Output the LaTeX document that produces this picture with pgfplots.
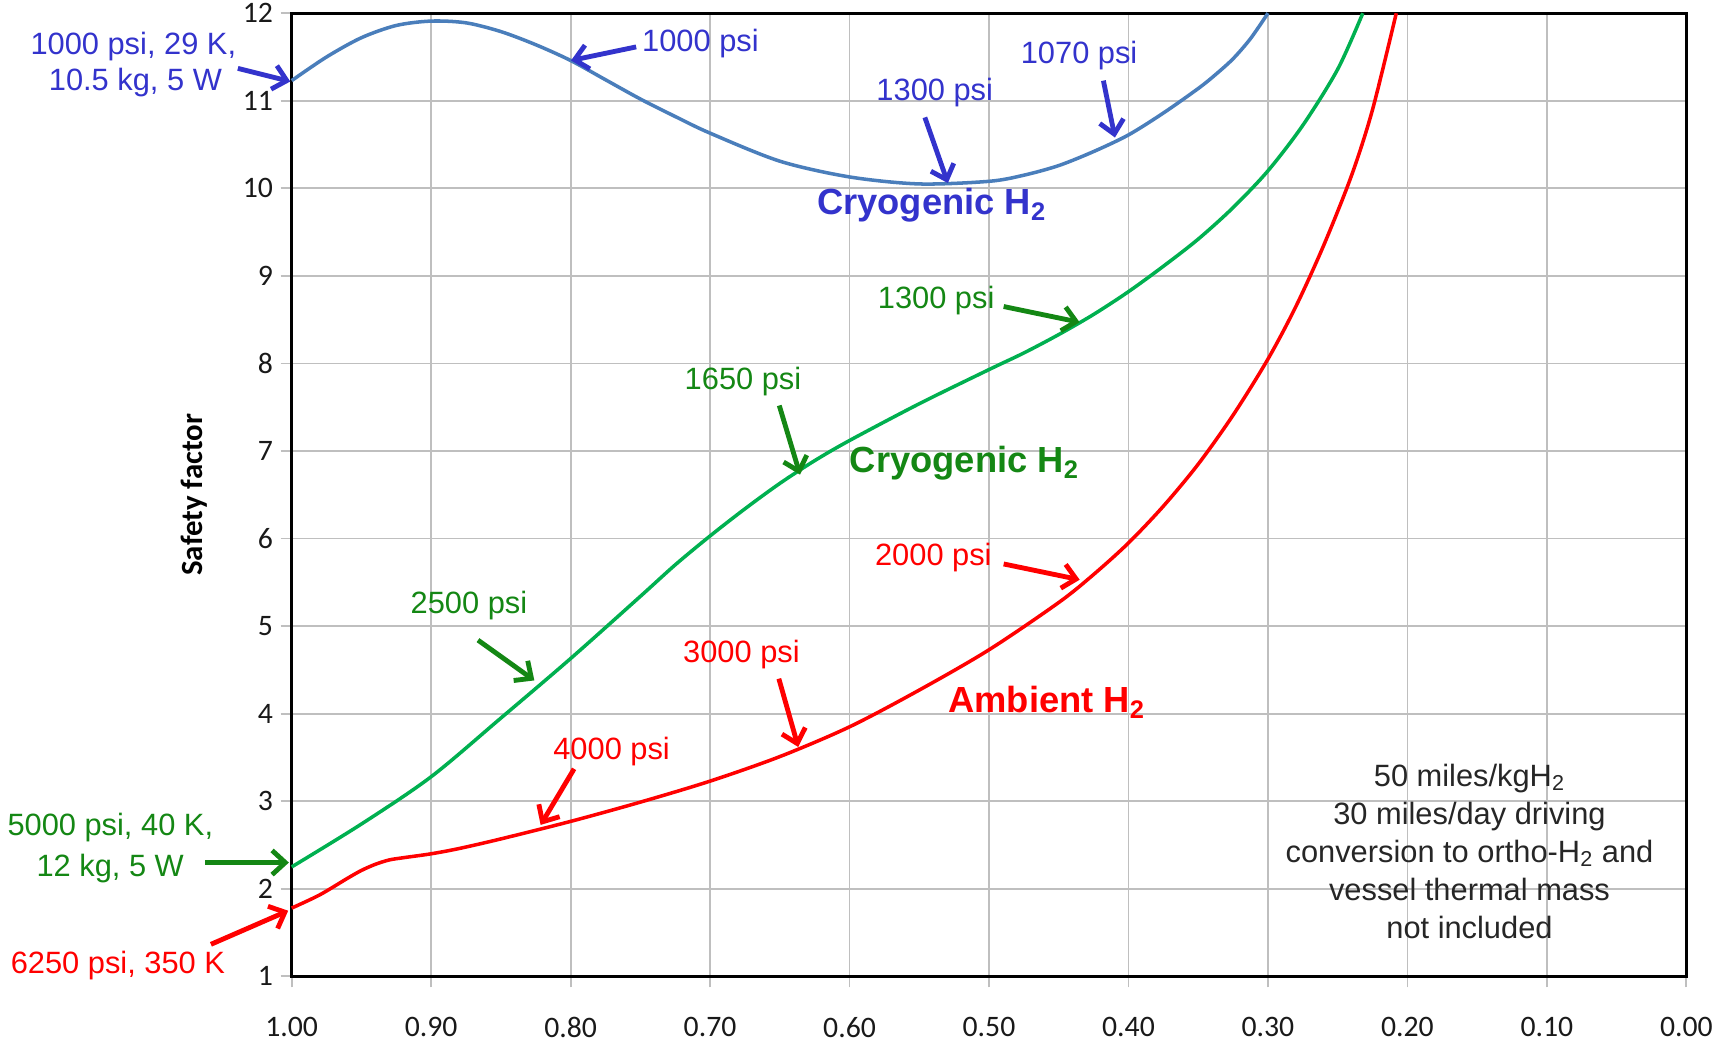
\documentclass[border=0pt]{standalone}
\usepackage{pgfplots}
\pgfplotsset{compat=1.18}
\usepackage{fontspec}
\setmainfont{Liberation Sans}
\newfontfamily\calibri{Carlito}
\usetikzlibrary{arrows.meta}

\definecolor{bluecurve}{RGB}{74,126,187}
\definecolor{bluetext}{RGB}{51,51,204}
\definecolor{greencurve}{RGB}{0,176,80}
\definecolor{greentext}{RGB}{20,135,20}
\definecolor{redc}{RGB}{255,0,0}
\definecolor{gridc}{RGB}{191,191,191}

\begin{document}
\begin{tikzpicture}[
  ann/.style={font=\fontsize{14}{16}\selectfont, inner sep=0pt},
  big/.style={font=\fontsize{16.5}{19}\selectfont\bfseries, inner sep=0pt},
  arr/.style={line width=2.2pt, -{Straight Barb[length=6pt,width=11pt]}},
]
\begin{axis}[
  scale only axis, width=633.5pt, height=437.5pt,
  x dir=reverse, xmin=0, xmax=1, ymin=1, ymax=12,
  xtick={0,0.1,0.2,0.3,0.4,0.5,0.6,0.7,0.8,0.9,1},
  xticklabels={0.00,0.10,0.20,0.30,0.40,0.50,0.60,0.70,0.80,0.90,1.00},
  ytick={1,2,3,4,5,6,7,8,9,10,11,12},
  yticklabels={1,2,3,4,5,6,7,8,9,10,11,12},
  grid=major, major grid style={gridc, line width=0.8pt},
  axis line style={black, line width=1.5pt},
  tick align=outside, tick pos=left, major tick length=5pt,
  tick style={gridc, line width=0.8pt},
  ticklabel style={font=\calibri\fontsize{13.5}{15}\selectfont, text=black!90},
  xticklabel style={yshift=-10pt},
  ylabel={Safety factor},
  ylabel style={font=\calibri\fontsize{14}{16}\selectfont\bfseries, at={(axis description cs:-0.0702,0.5)}, anchor=center},
  clip=false,
]
% Cryogenic H2 (blue)
\addplot[bluecurve, line width=1.6pt, smooth] coordinates {
(1.00,11.23) (0.975,11.50) (0.95,11.72) (0.925,11.86) (0.90,11.91) (0.875,11.89)
(0.85,11.79) (0.825,11.64) (0.80,11.46) (0.775,11.24) (0.75,11.02) (0.725,10.82)
(0.70,10.63) (0.65,10.31) (0.60,10.13) (0.55,10.05) (0.50,10.08) (0.475,10.15)
(0.45,10.26) (0.425,10.42) (0.40,10.61) (0.375,10.86) (0.35,11.14) (0.3375,11.30)
(0.325,11.48) (0.3125,11.71) (0.30,12.00)};
% Cryogenic H2 (green)
\addplot[greencurve, line width=1.6pt, smooth] coordinates {
(1.00,2.25) (0.95,2.74) (0.90,3.28) (0.85,3.95) (0.80,4.63) (0.75,5.34)
(0.725,5.70) (0.70,6.03) (0.675,6.34) (0.65,6.63) (0.625,6.89) (0.60,7.12)
(0.55,7.54) (0.50,7.93) (0.475,8.12) (0.45,8.33) (0.425,8.56) (0.40,8.82)
(0.375,9.11) (0.35,9.42) (0.325,9.78) (0.30,10.20) (0.275,10.72) (0.25,11.36)
(0.232,12.00)};
% Ambient H2 (red)
\addplot[redc, line width=1.6pt, smooth] coordinates {
(1.00,1.78) (0.98,1.93) (0.96,2.12) (0.95,2.21) (0.94,2.28) (0.93,2.33)
(0.92,2.355) (0.90,2.40) (0.88,2.46) (0.85,2.57) (0.80,2.77) (0.75,2.99)
(0.70,3.23) (0.65,3.51) (0.60,3.85) (0.55,4.27) (0.50,4.73) (0.45,5.27)
(0.425,5.59) (0.40,5.95) (0.375,6.37) (0.35,6.85) (0.325,7.41) (0.30,8.05)
(0.28,8.65) (0.26,9.35) (0.24,10.15) (0.225,10.90) (0.208,12.00)};

% blue annotations
\node[ann, text=bluetext, anchor=base east] at (axis cs:1.0395,11.53) {1000 psi, 29 K,};
\node[ann, text=bluetext, anchor=base east] at (axis cs:1.0497,11.12) {10.5 kg, 5 W};
\draw[arr, bluetext] (axis cs:1.0386,11.37) -- (axis cs:1.001,11.22);
\node[ann, text=bluetext, anchor=base west] at (axis cs:0.749,11.56) {1000 psi};
\draw[arr, bluetext] (axis cs:0.753,11.615) -- (axis cs:0.7997,11.46);
\node[ann, text=bluetext, anchor=base west] at (axis cs:0.581,11.0) {1300 psi};
\draw[arr, bluetext] (axis cs:0.546,10.81) -- (axis cs:0.5295,10.06);
\node[ann, text=bluetext, anchor=base west] at (axis cs:0.4775,11.43) {1070 psi};
\draw[arr, bluetext] (axis cs:0.418,11.23) -- (axis cs:0.4097,10.58);
\node[big, text=bluetext, anchor=base west] at (axis cs:0.6235,9.70) {Cryogenic H\textsubscript{2}};

% green annotations
\node[ann, text=greentext, anchor=base east] at (axis cs:1.056,2.61) {5000 psi, 40 K,};
\node[ann, text=greentext, anchor=base east] at (axis cs:1.077,2.14) {12 kg, 5 W};
\draw[arr, greentext] (axis cs:1.062,2.30) -- (axis cs:1.002,2.30);
\node[ann, text=greentext, anchor=base west] at (axis cs:0.915,5.14) {2500 psi};
\draw[arr, greentext] (axis cs:0.8664,4.84) -- (axis cs:0.826,4.38);
\node[ann, text=greentext, anchor=base west] at (axis cs:0.7185,7.70) {1650 psi};
\draw[arr, greentext] (axis cs:0.6504,7.52) -- (axis cs:0.6355,6.73);
\node[ann, text=greentext, anchor=base west] at (axis cs:0.580,8.63) {1300 psi};
\draw[arr, greentext] (axis cs:0.4895,8.65) -- (axis cs:0.4350,8.47);
\node[big, text=greentext, anchor=base west] at (axis cs:0.600,6.75) {Cryogenic H\textsubscript{2}};

% red annotations
\node[ann, text=redc, anchor=base east] at (axis cs:1.0475,1.03) {6250 psi, 350 K};
\draw[arr, redc] (axis cs:1.0579,1.366) -- (axis cs:1.0025,1.75);
\node[ann, text=redc, anchor=base west] at (axis cs:0.8127,3.48) {4000 psi};
\draw[arr, redc] (axis cs:0.7975,3.37) -- (axis cs:0.8215,2.73);
\node[ann, text=redc, anchor=base west] at (axis cs:0.7196,4.59) {3000 psi};
\draw[arr, redc] (axis cs:0.6507,4.40) -- (axis cs:0.6368,3.62);
\node[ann, text=redc, anchor=base west] at (axis cs:0.582,5.69) {2000 psi};
\draw[arr, redc] (axis cs:0.4895,5.71) -- (axis cs:0.4350,5.53);
\node[big, text=redc, anchor=base west] at (axis cs:0.5295,4.01) {Ambient H\textsubscript{2}};

% note
\node[font=\fontsize{14}{17.25}\selectfont, align=center, inner sep=0pt, text=black!85] at (axis cs:0.1555,2.43)
  {50 miles/kgH\textsubscript{2}\\30 miles/day driving\\conversion to ortho-H\textsubscript{2} and\\vessel thermal mass\\not included};

\coordinate (sw) at (axis description cs:0,0);
\coordinate (ne) at (axis description cs:1,1);
\end{axis}
\pgfresetboundingbox
\path ([shift={(-132.5pt,-30pt)}]sw) rectangle ([shift={(18pt,6pt)}]ne);
\end{tikzpicture}
\end{document}
